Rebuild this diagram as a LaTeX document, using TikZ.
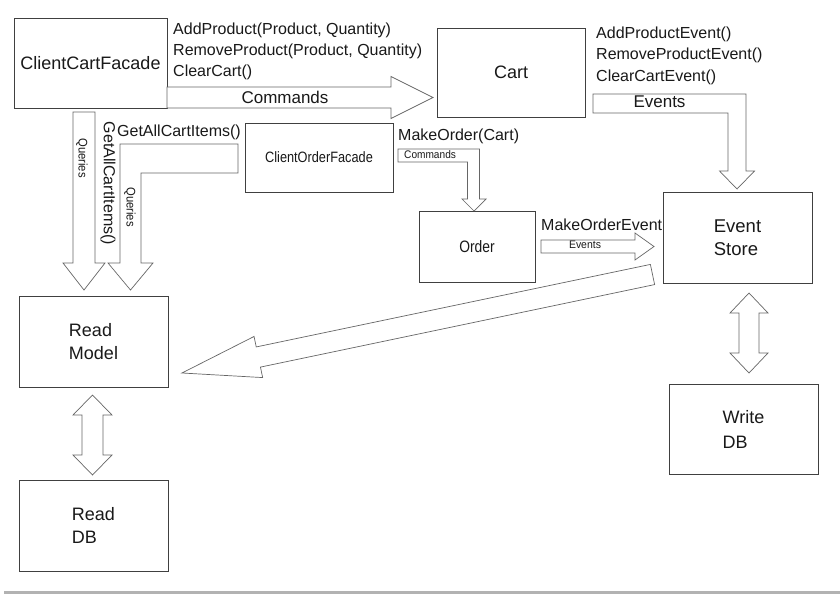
\documentclass[tikz,border=0pt]{standalone}
\usepackage{fontspec}
\setmainfont{Liberation Sans}
\usetikzlibrary{calc}
% straight fat arrow: #2 start, #3 tip, #4 shaft half width, #5 head half width, #6 head length
\newcommand{\fatarrowdraw}[6][]{%
  \coordinate (fa-hb) at ($(#3)!#6!(#2)$);
  \draw[fatpoly,#1] ($(#2)!#4!90:(#3)$) -- ($(fa-hb)!#4!90:(#3)$) -- ($(fa-hb)!#5!90:(#3)$) -- (#3)
    -- ($(fa-hb)!#5!-90:(#3)$) -- ($(fa-hb)!#4!-90:(#3)$) -- ($(#2)!#4!-90:(#3)$) -- cycle;}
% double fat arrow
\newcommand{\dblarrowdraw}[5]{%
  \coordinate (da-a) at ($(#1)!#5!(#2)$);
  \coordinate (da-b) at ($(#2)!#5!(#1)$);
  \draw[fatpoly] (#1) -- ($(da-a)!#4!90:(#2)$) -- ($(da-a)!#3!90:(#2)$) -- ($(da-b)!#3!90:(#2)$)
    -- ($(da-b)!#4!90:(#2)$) -- (#2) -- ($(da-b)!#4!-90:(#2)$) -- ($(da-b)!#3!-90:(#2)$)
    -- ($(da-a)!#3!-90:(#2)$) -- ($(da-a)!#4!-90:(#2)$) -- cycle;}
\newcommand{\narrowtext}[3]{\scalebox{#1}[1]{\fontsize{#2}{1.2\dimexpr#2pt\relax}\selectfont #3}}
\begin{document}
\begin{tikzpicture}[x=1pt,y=-1pt,
  box/.style={draw=black!75, line width=0.8pt, fill=white, inner sep=0pt, align=left, text=black!90},
  fatpoly/.style={draw=black!60, line width=0.7pt, fill=white, line join=miter},
  lbl/.style={inner sep=0pt, anchor=west, align=left, text=black!90},
  clbl/.style={inner sep=0pt, text=black!90},
]
\useasboundingbox (0,0) rectangle (840,594);
\fill[white] (0,0) rectangle (840,594);
\fill[black!30] (4,591) rectangle (840,594);

% boxes
\node[box, minimum width=153pt, minimum height=90pt, font=\fontsize{18}{22}\selectfont] (ccf) at (90.5,63) {ClientCartFacade};
\node[box, minimum width=148pt, minimum height=89pt, font=\fontsize{18}{22}\selectfont] (cart) at (511,72.5) {Cart};
\node[box, minimum width=148pt, minimum height=69pt] (cof) at (319,157.5) {\narrowtext{0.85}{15}{ClientOrderFacade}};
\node[box, minimum width=116pt, minimum height=71pt] (order) at (477,246.5) {\narrowtext{0.84}{16.5}{Order}};
\node[box, minimum width=149pt, minimum height=91pt, font=\fontsize{18.5}{23}\selectfont] (es) at (737.5,237.5) {Event\\Store};
\node[box, minimum width=149pt, minimum height=91pt, font=\fontsize{18}{23}\selectfont] (rm) at (93.5,341.5) {Read\\Model};
\node[box, minimum width=149pt, minimum height=91pt, font=\fontsize{18}{23}\selectfont] (rdb) at (93.5,525.5) {Read\\DB};
\node[box, minimum width=149pt, minimum height=90pt, font=\fontsize{18}{25}\selectfont] (wdb) at (743.5,429) {Write\\DB};

% connector end points
\coordinate (cmdS) at (167,97.5);  \coordinate (cmdE) at (433,97.5);
\coordinate (q1S) at (84,112);     \coordinate (q1E) at (84,290);
\coordinate (evS) at (541,246.5);  \coordinate (evE) at (654,246.5);
\coordinate (bigS) at (652.5,274.5); \coordinate (bigE) at (182,373);
\coordinate (rdS) at (92.5,395);   \coordinate (rdE) at (92.5,475);
\coordinate (wdS) at (749,293);    \coordinate (wdE) at (749,373);

% straight fat arrows
\fatarrowdraw{cmdS}{cmdE}{10.5pt}{21pt}{42pt}
\fatarrowdraw{q1S}{q1E}{11pt}{21pt}{27pt}
\fatarrowdraw{evS}{evE}{6.5pt}{13.5pt}{19pt}
\fatarrowdraw{bigS}{bigE}{10.3pt}{21pt}{78pt}
\dblarrowdraw{rdS}{rdE}{10.5pt}{19.5pt}{20pt}
\dblarrowdraw{wdS}{wdE}{10pt}{19pt}{20pt}

% bent fat arrows
\draw[fatpoly] (238,144) -- (238,173) -- (141,173) -- (141,263) -- (153,263) -- (130.5,290)
  -- (108,263) -- (120,263) -- (120,144) -- cycle;
\draw[fatpoly] (593,94) -- (746,94) -- (746,171) -- (754.5,171) -- (737,189) -- (719.5,171)
  -- (728,171) -- (728,113) -- (593,113) -- cycle;
\draw[fatpoly] (398,149) -- (479.5,149) -- (479.5,199) -- (486,199) -- (474,211) -- (462,199)
  -- (467.5,199) -- (467.5,162) -- (398,162) -- cycle;

% labels
\node[lbl, font=\fontsize{16}{21}\selectfont] (cmdtxt) at (173,51)
  {AddProduct(Product, Quantity)\\RemoveProduct(Product, Quantity)\\ClearCart()};
\node[lbl, font=\fontsize{16}{21.5}\selectfont] (evtxt) at (596,55.5)
  {AddProductEvent()\\RemoveProductEvent()\\ClearCartEvent()};
\node[clbl, font=\fontsize{17}{20}\selectfont] (cmdlbl) at (285,97) {Commands};
\node[clbl, font=\fontsize{17}{20}\selectfont] (evlbl) at (659.5,102) {Events};
\node[lbl, font=\fontsize{16}{20}\selectfont] (gaci) at (117,132) {GetAllCartItems()};
\node[clbl, font=\fontsize{16}{20}\selectfont, rotate=-90] (gacir) at (108,183.5) {GetAllCartItems()};
\node[clbl, rotate=-90] (q1lbl) at (82,158) {\narrowtext{0.9}{12.5}{Queries}};
\node[clbl, rotate=-90] (q2lbl) at (130,207) {\narrowtext{0.9}{12.5}{Queries}};
\node[lbl, font=\fontsize{16}{20}\selectfont] (mo) at (398,136) {MakeOrder(Cart)};
\node[lbl] (smcmd) at (404,155) {\narrowtext{0.92}{11}{Commands}};
\node[lbl, font=\fontsize{16}{20}\selectfont] (moe) at (541,225) {MakeOrderEvent};
\node[clbl] (smev) at (585,245) {\narrowtext{0.95}{11}{Events}};
\end{tikzpicture}
\end{document}
